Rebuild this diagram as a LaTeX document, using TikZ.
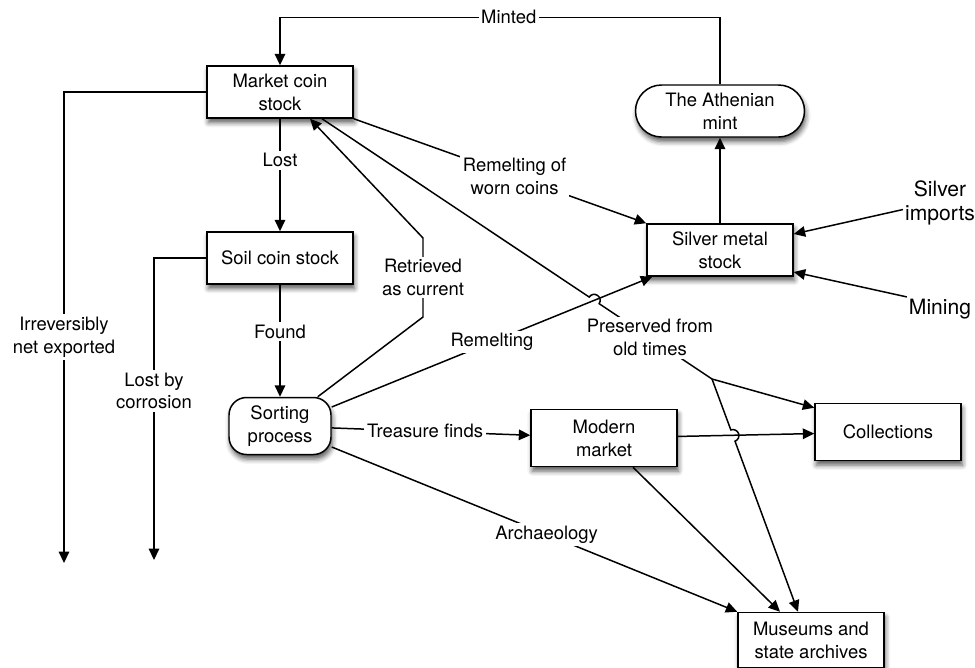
\documentclass[tikz,border=0pt]{standalone}
\usepackage{fontspec}
\setmainfont{TeX Gyre Heros}
\usetikzlibrary{arrows.meta,calc,positioning,shadows.blur}
\tikzset{
     stock node/.style={draw, line width=0.85pt, fill=white, align=center,
        minimum width=2.92cm, minimum height=1.04cm, inner sep=2pt,
        font=\fontsize{10.5}{13}\selectfont,
        blur shadow={shadow xshift=0.8pt, shadow yshift=-2.6pt, shadow blur radius=2.8pt, shadow opacity=65}},
      process node/.style={stock node, rounded corners=0.35cm, minimum width=2.04cm, minimum height=1.14cm},
      flow edge/.style   = {draw, line width=0.85pt, -{Triangle[length=6.5pt,width=6pt]}},
      line edge/.style = {draw, line width=0.85pt},
      flow label/.style = {fill=white, inner sep=1.5pt, align=center, font=\fontsize{10.5}{13}\selectfont},
      inflow/.style = {align=center, inner sep=1pt, font=\fontsize{12}{13.5}\selectfont},
    }

\begin{document}
\begin{tikzpicture}[on grid]
        \useasboundingbox (0,0) rectangle (19.5,-13.36);

        \node [stock node] (market) at (5.6,-1.84) {Market coin\\stock};
        \node [stock node] (soil) [below=3.32cm of market] {Soil coin stock};
        \node [process node] (sorting) [below=3.36cm of soil] {Sorting\\process};
        \node [process node, rounded corners=0.52cm, minimum width=3.38cm, minimum height=1.04cm] (mint) at (14.4,-2.22) {The Athenian\\mint};
        \node [stock node] (silver) [below=2.78cm of mint] {Silver metal\\stock};
        \node [stock node, minimum height=1.14cm] (modern) at (12.08,-8.76) {Modern\\market};
        \node [stock node, minimum height=1.14cm] (collections) at (17.76,-8.64) {Collections};
        \node [stock node, minimum height=1.1cm] (museums) at (16.22,-12.8) {Museums and\\state archives};
        \node [inflow] (imports) at (18.8,-4.06) {Silver\\imports};
        \node [inflow] (mining) at (18.8,-6.18) {Mining};

        \coordinate (export) at (1.28,-11.26);
        \coordinate (corrode) at (3.08,-11.2);
        \coordinate (rbend1) at (8.46,-6.34);
        \coordinate (rbend2) at (8.46,-4.76);
        \coordinate (pbranch) at (14.24,-7.58);
        \coordinate (pstart) at ([xshift=0.84cm]market.south);
        \coordinate (pend) at ([xshift=-0.26cm]museums.north);
        \coordinate (rstart) at ([yshift=0.38cm]sorting.east);
        \coordinate (rend) at ([xshift=0.12cm]silver.south west);
        \coordinate (jump1) at (intersection of pstart--pbranch and rstart--rend);
        \coordinate (jump2) at (intersection of pbranch--pend and modern.east--collections.west);

        \path[flow edge]
        (market) edge node[flow label, pos=0.37] {Lost} (soil)
        (soil) edge node[flow label, pos=0.42] {Found} (sorting)
        (silver) edge (mint)
        (sorting) edge node[flow label, pos=0.47] {Treasure finds} (modern)
        (modern) edge (collections);

        \draw[flow edge] (mint.north) -- ++(0,1.34) -| node[flow label, pos=0.24] {Minted} (market.north);
        \draw[flow edge] (market.west) -| node[flow label, pos=0.76] {Irreversibly\\net exported} (export);
        \draw[flow edge] (soil.west) -| node[flow label, pos=0.72] {Lost by\\corrosion} (corrode);
        \draw[flow edge] ([xshift=-0.28cm]sorting.north east) -- (rbend1)
            -- node[flow label] {Retrieved\\as current} (rbend2) -- ([xshift=0.6cm]market.south);
        \draw[flow edge] (rstart) -- node[flow label, pos=0.5] {Remelting} (rend);
        \draw[flow edge] (market.south east) -- node[flow label, pos=0.55] {Remelting of\\worn coins} (silver.north west);

        % preserved coins, jumping over the crossing lines
        \draw[line edge] let \p1=($(pstart)-(jump1)$), \n1={atan2(\y1,\x1)} in
            (pstart) -- ($(jump1)!0.12cm!(pstart)$) arc[start angle=\n1, delta angle=-180, radius=0.12cm]
            -- node[flow label, pos=0.45] {Preserved from\\old times} (pbranch);
        \draw[flow edge] let \p1=($(pbranch)-(jump2)$), \n1={atan2(\y1,\x1)} in
            (pbranch) -- ($(jump2)!0.12cm!(pbranch)$) arc[start angle=\n1, delta angle=-180, radius=0.12cm] -- (pend);
        \draw[flow edge] (pbranch) -- ([yshift=-0.1cm]collections.north west);

        \draw[flow edge] ([xshift=0.58cm]modern.south) -- ([xshift=-0.62cm]museums.north);
        \draw[flow edge] ([yshift=-0.42cm]sorting.east) -- node[flow label, pos=0.53] {Archaeology} (museums.north west);
        \draw[flow edge] (imports.190) -- ([yshift=0.32cm]silver.east);
        \draw[flow edge] (mining.160) -- ([yshift=-0.44cm]silver.east);
    \end{tikzpicture}
\end{document}
